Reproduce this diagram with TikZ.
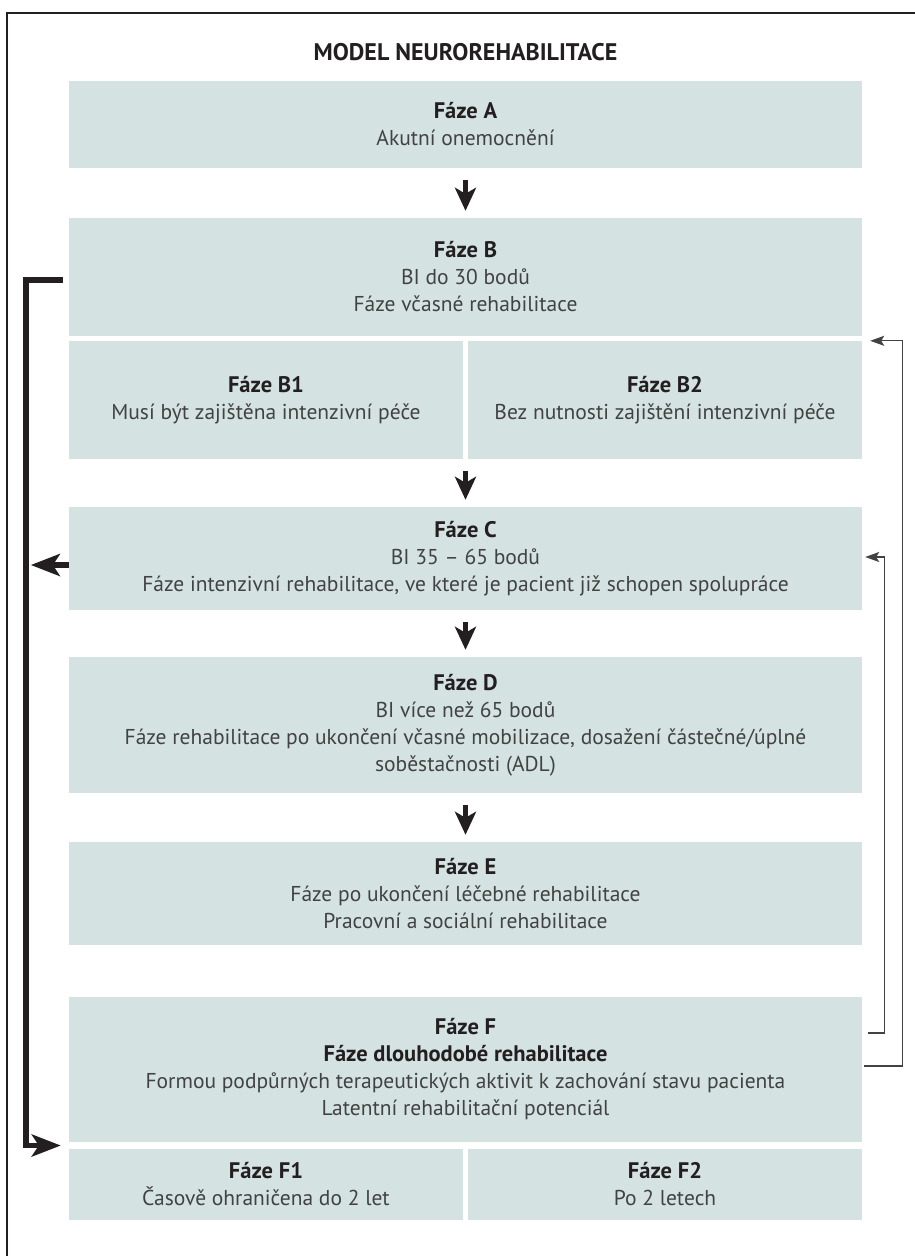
\documentclass[tikz,border=0pt]{standalone}
\usepackage{fontspec}
\setmainfont{PT Sans}
\usetikzlibrary{arrows.meta,calc}
\definecolor{boxfill}{RGB}{212,227,226}
\definecolor{ink}{RGB}{35,31,32}
\definecolor{txt}{RGB}{66,66,66}
\newcommand\phz[1]{{\fontsize{22.5}{27}\selectfont\bfseries\color{ink}#1}}
\begin{document}
\begin{tikzpicture}[x=1pt,y=-1pt,
  box/.style={fill=boxfill, draw=none, inner sep=0pt, align=center, text=txt,
    font=\fontsize{21.5}{27}\selectfont, minimum width=793pt},
  halfbox/.style={box, minimum width=394pt},
  flowarrow/.style={draw=ink, line width=5pt, -{Stealth[length=23pt,width=21pt,inset=6pt]},
    shorten <=12pt, shorten >=7pt},
  bracketline/.style={draw=ink, line width=5.5pt, line join=miter,
    -{Stealth[length=29pt,width=22pt,inset=7pt]}},
  thinarrow/.style={draw=txt, line width=1.3pt, -{Stealth[length=14pt,width=10pt,inset=3pt]}}
]
\useasboundingbox (0,0) rectangle (914,1256);
% frame (right and bottom edges lie outside the picture)
\draw[ink, line width=1.6pt] (7,1262) |- (920,13);

\node[font=\fontsize{24}{28}\selectfont\bfseries, text=ink] (title) at (465.5,52) {MODEL NEUROREHABILITACE};

\node[box, minimum height=87pt] (A) at (465.5,124.5) {\phz{Fáze A}\\Akutní onemocnění};
\node[box, minimum height=118pt] (B) at (465.5,277) {\phz{Fáze B}\\BI do 30 bodů\\Fáze včasné rehabilitace};
\node[halfbox, minimum height=118pt] (B1) at (266,400) {\phz{Fáze B1}\\Musí být zajištěna intenzivní péče};
\node[halfbox, minimum height=118pt] (B2) at (665,400) {\phz{Fáze B2}\\Bez nutnosti zajištění intenzivní péče};
\node[box, minimum height=103pt] (C) at (465.5,558.5) {\phz{Fáze C}\\BI 35 – 65 bodů\\Fáze intenzivní rehabilitace, ve které je pacient již schopen spolupráce};
\node[box, minimum height=136pt] (D) at (465.5,725) {\phz{Fáze D}\\BI více než 65 bodů\\Fáze rehabilitace po ukončení včasné mobilizace, dosažení částečné/úplné\\soběstačnosti (ADL)};
\node[box, minimum height=103pt] (E) at (465.5,893.5) {\phz{Fáze E}\\Fáze po ukončení léčebné rehabilitace\\Pracovní a sociální rehabilitace};
\node[box, minimum height=145pt] (F) at (465.5,1069.5) {\phz{Fáze F}\\\phz{Fáze dlouhodobé rehabilitace}\\Formou podpůrných terapeutických aktivit k zachování stavu pacienta\\Latentní rehabilitační potenciál};
\node[halfbox, minimum height=71pt] (F1) at (266,1184.5) {\phz{Fáze F1}\\Časově ohraničena do 2 let};
\node[halfbox, minimum height=71pt] (F2) at (665,1184.5) {\phz{Fáze F2}\\Po 2 letech};

% main downward arrows
\draw[flowarrow] (A.south) -- (B.north);
\draw[flowarrow] (C.north |- B1.south) -- (C.north);
\draw[flowarrow] (C.south) -- (D.north);
\draw[flowarrow] (D.south) -- (E.north);

% left bracket from B to F1
\coordinate (brTop) at ($(B.west)+(-6,3)$);
\coordinate (brEnd) at ($(F.south west)!0.5!(F1.north west)+(-8,0)$);
\draw[bracketline] (brTop) -- ++(-37,0) |- (brEnd);
% arrow from C to the bracket
\draw[bracketline] ($(C.west)+(0,6.5)$) -- ($(C.west)+(-38,6.5)$);

% right feedback connectors
\draw[thinarrow] ($(F.east)+(6,-36.5)$) -- ++(16,0) |- ($(C.east)+(3,-1.5)$);
\draw[thinarrow] ($(F.east)+(2,-3.5)$) -- ++(38,0) |- ($(B2.north east)+(8,0)$);
\end{tikzpicture}
\end{document}
